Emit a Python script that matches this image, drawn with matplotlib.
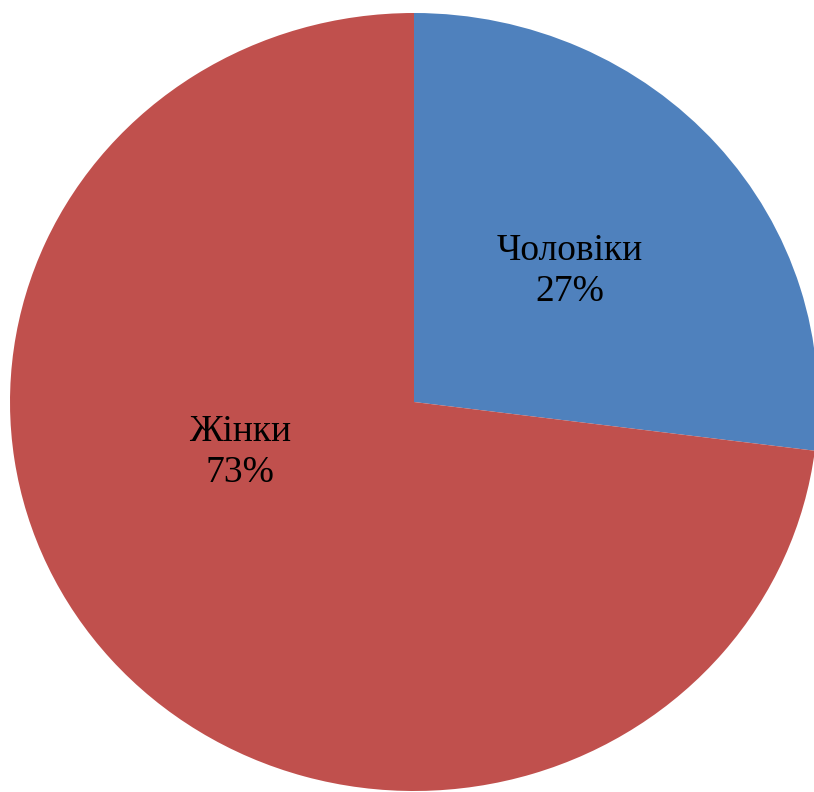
import matplotlib
matplotlib.use("Agg")
import matplotlib.pyplot as plt

categories = ["Чоловіки", "Жінки"]
values = [27, 73]
colors = ["#4F81BD", "#C0504D"]

W, H = 814, 792
fig = plt.figure(figsize=(W / 100, H / 100), dpi=100)
cx, cy = 414, 402
rx, ry = 404, 389
ax = fig.add_axes([(cx - rx) / W, (H - cy - ry) / H, 2 * rx / W, 2 * ry / H])
ax.pie(values, colors=colors, startangle=90, counterclock=False,
       radius=1, wedgeprops=dict(linewidth=0))
ax.set_aspect("auto")
ax.set_xlim(-1, 1)
ax.set_ylim(-1, 1)
ax.axis("off")

label_pos = [((570 - cx) / rx, (cy - 271) / ry), ((240 - cx) / rx, (cy - 452) / ry)]
for cat, v, (x, y) in zip(categories, values, label_pos):
    ax.text(x, y, f"{cat}\n{v}%", ha="center", va="center",
            fontsize=27, family="Liberation Serif", color="black",
            linespacing=1.25)

fig.savefig("out.png", dpi=100)
